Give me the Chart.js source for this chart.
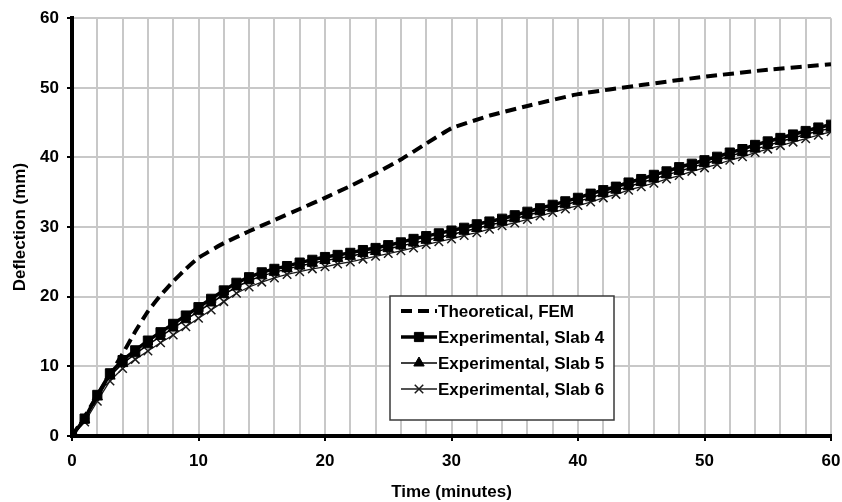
<!DOCTYPE html>
<html>
<head>
<meta charset="utf-8">
<script src="https://cdn.jsdelivr.net/npm/chart.js@4.4.1/dist/chart.umd.min.js"></script>
<style>
  html, body { margin: 0; padding: 0; background: #fff; }
  #kehys { width: 842px; height: 502px; }
</style>
</head>
<body>
<div id="kehys"><canvas id="taipuma"></canvas></div>
<script>
// Mittausajat (min), kokeet kirjattu minuutin välein
const aika = [0, 1, 2, 3, 4, 5, 6, 7, 8, 9, 10, 11, 12, 13, 14, 15, 16, 17, 18, 19, 20,
  21, 22, 23, 24, 25, 26, 27, 28, 29, 30, 31, 32, 33, 34, 35, 36, 37, 38, 39, 40,
  41, 42, 43, 44, 45, 46, 47, 48, 49, 50, 51, 52, 53, 54, 55, 56, 57, 58, 59, 60];

// Laskettu taipuma (FEM)
const femAika = [0, 1, 2, 3, 4, 5, 6, 7, 8, 9, 10, 12, 14, 16, 18, 20, 22, 24, 26, 28, 30, 33, 36, 40, 45, 50, 55, 60];
const femTaipuma = [0, 2.8, 5.8, 8.8, 11.8, 15.0, 17.9, 20.2, 22.2, 24.0, 25.6, 27.7, 29.4, 31.0, 32.6, 34.2, 35.9, 37.7, 39.7, 42.0, 44.2, 46.0, 47.4, 49.1, 50.4, 51.6, 52.6, 53.4];

// Mitatut taipumat (mm)
const laatta4 = [0, 2.5, 5.9, 9.0, 10.9, 12.3, 13.7, 14.9, 16.1, 17.3, 18.5, 19.7, 20.9, 22.0, 22.8, 23.5, 24.0, 24.4, 24.9, 25.3, 25.7,
  26.0, 26.3, 26.7, 27.0, 27.4, 27.8, 28.3, 28.7, 29.1, 29.5, 29.9, 30.4, 30.8, 31.2, 31.7, 32.2, 32.7, 33.2, 33.7, 34.2,
  34.8, 35.3, 35.8, 36.4, 36.9, 37.5, 38.0, 38.6, 39.1, 39.6, 40.1, 40.7, 41.2, 41.8, 42.3, 42.8, 43.3, 43.8, 44.3, 44.7];
const laatta5 = [0, 2.3, 5.6, 8.6, 10.4, 11.8, 13.1, 14.3, 15.5, 16.7, 17.9, 19.1, 20.3, 21.4, 22.3, 23.0, 23.5, 24.0, 24.4, 24.8, 25.2,
  25.5, 25.8, 26.2, 26.5, 26.9, 27.3, 27.7, 28.1, 28.5, 28.9, 29.4, 29.8, 30.3, 30.7, 31.2, 31.7, 32.2, 32.7, 33.2, 33.7,
  34.2, 34.8, 35.3, 35.8, 36.4, 36.9, 37.5, 38.0, 38.6, 39.1, 39.6, 40.2, 40.7, 41.2, 41.7, 42.3, 42.8, 43.3, 43.8, 44.2];
const laatta6 = [0, 2.0, 5.0, 7.9, 9.7, 11.0, 12.2, 13.4, 14.5, 15.7, 16.9, 18.1, 19.3, 20.5, 21.4, 22.1, 22.7, 23.2, 23.6, 24.0, 24.3,
  24.7, 25.0, 25.4, 25.8, 26.2, 26.6, 27.0, 27.5, 27.9, 28.3, 28.8, 29.2, 29.7, 30.2, 30.6, 31.1, 31.6, 32.1, 32.6, 33.1,
  33.6, 34.2, 34.7, 35.3, 35.8, 36.3, 36.9, 37.4, 38.0, 38.5, 39.0, 39.6, 40.1, 40.7, 41.2, 41.7, 42.2, 42.7, 43.2, 43.7];

const fontti = '"Liberation Sans", Arial, sans-serif';

function pisteet(xs, ys) {
  return xs.map((x, i) => ({ x: x, y: ys[i] }));
}

// Piirretään merkki selitteeseen samalla tyylillä kuin käyrällä
function merkki(ctx, tyyli, r, x, y) {
  ctx.beginPath();
  if (tyyli === 'rect') {
    const s = r * Math.SQRT1_2;
    ctx.rect(x - s, y - s, 2 * s, 2 * s);
    ctx.fill(); ctx.stroke();
  } else if (tyyli === 'triangle') {
    const h = r * 1.5;
    ctx.moveTo(x, y - r);
    ctx.lineTo(x + h / Math.sqrt(3), y + r / 2);
    ctx.lineTo(x - h / Math.sqrt(3), y + r / 2);
    ctx.closePath();
    ctx.fill(); ctx.stroke();
  } else if (tyyli === 'crossRot') {
    const s = r * Math.SQRT1_2;
    ctx.moveTo(x - s, y - s); ctx.lineTo(x + s, y + s);
    ctx.moveTo(x - s, y + s); ctx.lineTo(x + s, y - s);
    ctx.stroke();
  }
}

// Selite piirretään kuvaajan sisälle
const selite = {
  id: 'selite',
  afterDatasetsDraw(chart, args, o) {
    const ctx = chart.ctx;
    ctx.save();
    ctx.fillStyle = '#fff';
    ctx.fillRect(o.x, o.y, o.w, o.h);
    ctx.strokeStyle = '#3a3a3a';
    ctx.lineWidth = 1.5;
    ctx.strokeRect(o.x, o.y, o.w, o.h);
    chart.data.datasets.forEach((ds, i) => {
      const yy = o.y + 15 + i * 26;
      ctx.beginPath();
      ctx.setLineDash(ds.borderDash || []);
      ctx.lineWidth = ds.borderWidth;
      ctx.strokeStyle = ds.borderColor;
      ctx.moveTo(o.x + 11, yy);
      ctx.lineTo(o.x + 47, yy);
      ctx.stroke();
      ctx.setLineDash([]);
      if (ds.pointRadius > 0) {
        ctx.fillStyle = ds.pointBackgroundColor;
        ctx.strokeStyle = ds.pointBorderColor;
        ctx.lineWidth = ds.pointBorderWidth;
        merkki(ctx, ds.pointStyle, ds.pointRadius, o.x + 29, yy);
      }
      ctx.fillStyle = '#000';
      ctx.font = 'bold 17px ' + fontti;
      ctx.textBaseline = 'middle';
      ctx.fillText(ds.label, o.x + 48, yy + 1);
    });
    ctx.restore();
  }
};

const ctx = document.querySelector('#taipuma').getContext('2d');
window.kuvaaja = new Chart(ctx, {
  type: 'line',
  data: {
    datasets: [{
      label: 'Theoretical, FEM',
      data: pisteet(femAika, femTaipuma),
      borderColor: '#000',
      borderWidth: 4,
      borderDash: [11, 6],
      pointRadius: 0,
      tension: 0.1
    }, {
      label: 'Experimental, Slab 4',
      data: pisteet(aika, laatta4),
      borderColor: '#000',
      borderWidth: 3.5,
      pointStyle: 'rect',
      pointRadius: 6.5,
      pointBorderWidth: 1,
      pointBackgroundColor: '#000',
      pointBorderColor: '#000'
    }, {
      label: 'Experimental, Slab 5',
      data: pisteet(aika, laatta5),
      borderColor: '#000',
      borderWidth: 1.5,
      pointStyle: 'triangle',
      pointRadius: 6,
      pointBorderWidth: 1,
      pointBackgroundColor: '#000',
      pointBorderColor: '#000'
    }, {
      label: 'Experimental, Slab 6',
      data: pisteet(aika, laatta6),
      borderColor: '#1a1a1a',
      borderWidth: 1.3,
      pointStyle: 'crossRot',
      pointRadius: 6,
      pointBorderWidth: 1.5,
      pointBackgroundColor: '#1a1a1a',
      pointBorderColor: '#1a1a1a'
    }]
  },
  options: {
    responsive: true,
    maintainAspectRatio: false,
    animation: false,
    layout: { padding: { top: 16, right: 11, left: 0, bottom: 0 } },
    plugins: {
      legend: { display: false },
      tooltip: { enabled: false },
      selite: { x: 390, y: 296, w: 224, h: 124 }
    },
    scales: {
      x: {
        type: 'linear',
        min: 0,
        max: 60,
        ticks: {
          stepSize: 2,
          autoSkip: false,
          maxRotation: 0,
          padding: 10,
          color: '#000',
          font: { family: fontti, size: 17, weight: 'bold' },
          callback: v => (v % 10 === 0 ? v : '')
        },
        grid: {
          color: '#c8c8c8',
          lineWidth: 2,
          tickLength: 5,
          tickWidth: 2,
          tickColor: c => (c.tick && c.tick.value % 10 === 0 ? '#000' : 'rgba(0,0,0,0)')
        },
        border: { color: '#000', width: 4 },
        title: {
          display: true,
          text: 'Time (minutes)',
          color: '#000',
          font: { family: fontti, size: 17, weight: 'bold', lineHeight: 1 },
          padding: { top: 8, bottom: 1 }
        },
        afterFit: s => {
          s.height = 66;
          s.paddingLeft = 0;
          s.paddingRight = 0;
        }
      },
      y: {
        min: 0,
        max: 60,
        ticks: {
          stepSize: 10,
          padding: 8,
          color: '#000',
          font: { family: fontti, size: 17, weight: 'bold' }
        },
        grid: {
          color: '#c8c8c8',
          lineWidth: 2,
          tickLength: 5,
          tickWidth: 2,
          tickColor: '#000'
        },
        border: { color: '#000', width: 4 },
        title: {
          display: true,
          text: 'Deflection (mm)',
          color: '#000',
          font: { family: fontti, size: 17, weight: 'bold' },
          padding: { top: 10, bottom: 0 }
        },
        afterFit: s => { s.width = 72; }
      }
    }
  },
  plugins: [selite]
});
</script>
</body>
</html>
